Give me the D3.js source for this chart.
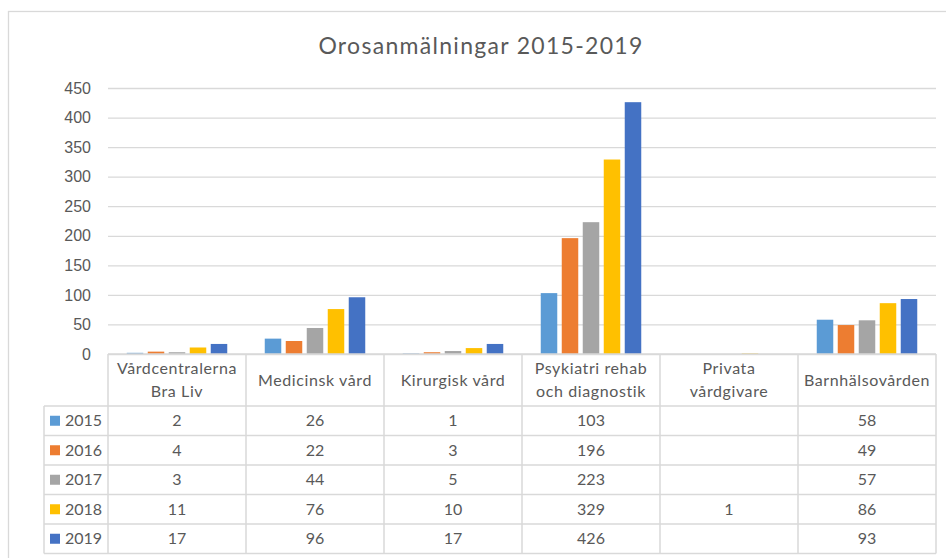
<!DOCTYPE html>
<html>
<head>
<meta charset="utf-8">
<script src="https://cdn.jsdelivr.net/npm/d3@7"></script>
<style>
  body { margin: 0; background: #fff; }
  svg { font-family: Lato, "Noto Sans", sans-serif; }
</style>
</head>
<body>
<svg width="946" height="558"></svg>
<script>
// data
const categories = ["Vårdcentralerna\nBra Liv", "Medicinsk vård", "Kirurgisk vård",
                    "Psykiatri rehab\noch diagnostik", "Privata\nvårdgivare", "Barnhälsovården"];
const years = ["2015", "2016", "2017", "2018", "2019"];
const v2015 = [2, 26, 1, 103, null, 58];
const v2016 = [4, 22, 3, 196, null, 49];
const v2017 = [3, 44, 5, 223, null, 57];
const v2018 = [11, 76, 10, 329, 1, 86];
const v2019 = [17, 96, 17, 426, null, 93];
const yTicks = [0, 50, 100, 150, 200, 250, 300, 350, 400, 450];

const seriesValues = [v2015, v2016, v2017, v2018, v2019];
const colors = ["#5B9BD5", "#ED7D31", "#A5A5A5", "#FFC000", "#4472C4"];
const textColor = "#595959";
const lineColor = "#d9d9d9";

const svg = d3.select("svg");

// plot area
const area = { left: 108, right: 936, top: 88, bottom: 354 };

const scX = d3.scaleBand()
    .domain(categories)
    .range([area.left, area.right]);

const scSub = d3.scaleBand()
    .domain(years)
    .range([0, scX.bandwidth()])
    .paddingInner(0.214)
    .paddingOuter(0.893);

const scY = d3.scaleLinear()
    .domain([0, 450])
    .range([area.bottom, area.top]);

// outer chart border
svg.append("rect")
    .attr("x", 8.5).attr("y", 11.5)
    .attr("width", 960).attr("height", 600)
    .attr("fill", "none")
    .attr("stroke", lineColor)
    .attr("stroke-width", 1.3);

// title
svg.append("text")
    .attr("x", 481).attr("y", 54)
    .attr("text-anchor", "middle")
    .attr("fill", textColor)
    .style("font-size", "23px")
    .style("letter-spacing", "1.3px")
    .text("Orosanmälningar 2015-2019");

// y axis with gridlines
const gY = svg.append("g")
    .attr("transform", `translate(${area.left}, 0)`)
    .call(d3.axisLeft(scY)
        .tickValues(yTicks)
        .tickSize(-(area.right - area.left))
        .tickPadding(17));
gY.select(".domain").remove();
gY.selectAll("line").attr("stroke", lineColor).attr("stroke-width", 1.3);
gY.selectAll("text").attr("fill", textColor).style("font-size", "16px");

// bars
years.forEach((year, i) => {
    const rows = categories.map((c, j) => ({ cat: c, value: seriesValues[i][j] }))
                           .filter(d => d.value !== null);
    svg.append("g")
        .selectAll("rect")
        .data(rows)
        .enter()
        .append("rect")
        .attr("x", d => scX(d.cat) + scSub(year))
        .attr("y", d => scY(d.value))
        .attr("width", scSub.bandwidth())
        .attr("height", d => scY(0) - scY(d.value))
        .attr("fill", colors[i]);
});

// data table
const headBottom = 406;
const tableBottom = 553.5;
const labelLeft = 44;

const scRow = d3.scaleBand()
    .domain(years)
    .range([headBottom, tableBottom]);

const table = svg.append("g")
    .attr("stroke", lineColor)
    .attr("stroke-width", 1.5);

// horizontal lines
table.append("line")
    .attr("x1", area.left).attr("x2", area.right)
    .attr("y1", area.bottom).attr("y2", area.bottom);
years.forEach(y => {
    table.append("line")
        .attr("x1", labelLeft).attr("x2", area.right)
        .attr("y1", scRow(y)).attr("y2", scRow(y));
});
table.append("line")
    .attr("x1", labelLeft).attr("x2", area.right)
    .attr("y1", tableBottom).attr("y2", tableBottom);

// vertical lines
table.append("line")
    .attr("x1", labelLeft).attr("x2", labelLeft)
    .attr("y1", headBottom).attr("y2", tableBottom);
categories.forEach(c => {
    table.append("line")
        .attr("x1", scX(c)).attr("x2", scX(c))
        .attr("y1", area.bottom).attr("y2", tableBottom);
});
table.append("line")
    .attr("x1", area.right).attr("x2", area.right)
    .attr("y1", area.bottom).attr("y2", tableBottom);

// header (category names)
const head = svg.append("g")
    .attr("fill", textColor)
    .style("font-size", "16px")
    .style("letter-spacing", "0.6px")
    .attr("text-anchor", "middle");
categories.forEach(c => {
    const lines = c.split("\n");
    const cy = (area.bottom + headBottom) / 2;
    lines.forEach((ln, k) => {
        head.append("text")
            .attr("x", scX(c) + scX.bandwidth() / 2)
            .attr("y", cy + (k - (lines.length - 1) / 2) * 23)
            .attr("dy", "0.35em")
            .text(ln);
    });
});

// row labels with legend keys
years.forEach((year, i) => {
    const cy = scRow(year) + scRow.bandwidth() / 2;
    svg.append("rect")
        .attr("x", 50).attr("y", cy - 5)
        .attr("width", 10).attr("height", 10)
        .attr("fill", colors[i]);
    svg.append("text")
        .attr("x", 65).attr("y", cy)
        .attr("dy", "0.35em")
        .attr("fill", textColor)
        .style("font-size", "16px")
        .text(year);

    categories.forEach((c, j) => {
        const v = seriesValues[i][j];
        if (v === null) return;
        svg.append("text")
            .attr("x", scX(c) + scX.bandwidth() / 2)
            .attr("y", cy)
            .attr("dy", "0.35em")
            .attr("text-anchor", "middle")
            .attr("fill", textColor)
            .style("font-size", "16px")
            .text(v);
    });
});
</script>
</body>
</html>
